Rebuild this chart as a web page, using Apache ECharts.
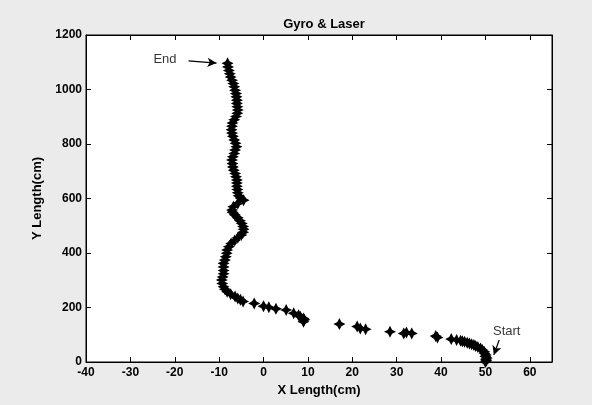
<!DOCTYPE html>
<html>
<head>
<meta charset="utf-8">
<script src="https://cdn.jsdelivr.net/npm/echarts@6/dist/echarts.min.js"></script>
<style>
  html, body { margin: 0; padding: 0; background: #ebebeb; }
  #chart { width: 592px; height: 405px; }
</style>
</head>
<body>
<div id="chart"></div>
<script>
// Robot path measured by gyro + laser, from start (x≈50) to end (y≈1100)
const xLen = [
  50.0, 50.2, 50.1, 50.3, 50.0, 50.1, 49.8, 49.7, 49.3, 48.9,
  48.3, 47.8, 47.4, 46.9, 46.4, 45.9, 45.3, 44.8, 44.4, 43.5,
  42.3, 39.2, 38.8, 33.4, 32.2, 31.6, 28.5, 23.0, 21.8, 21.1,
  17.1, 9.0, 9.2, 9.0, 8.3, 7.9, 6.8, 5.1, 2.8, 1.2,
  0.0, -2.1, -4.6, -5.2, -5.8, -6.4, -7.4, -8.2, -8.7, -9.0,
  -9.3, -9.4, -9.2, -9.0, -9.0, -9.0, -9.0, -8.7, -8.5, -8.3,
  -8.2, -7.8, -7.3, -6.5, -5.8, -5.0, -4.6, -4.5, -4.6, -4.9,
  -5.3, -5.8, -6.5, -7.0, -7.1, -6.8, -5.8, -4.5, -5.2, -5.6,
  -5.8, -5.9, -6.0, -6.0, -6.0, -6.2, -6.4, -6.7, -6.9, -7.0,
  -7.1, -6.9, -6.6, -6.4, -6.1, -6.3, -6.6, -6.9, -7.1, -7.2,
  -7.1, -7.0, -6.6, -6.2, -5.9, -5.8, -5.9, -6.0, -6.0, -6.1,
  -6.2, -6.4, -6.6, -6.8, -7.1, -7.4, -7.6, -7.8, -8.0, -8.1
];
const yLen = [
  0, 5, 10, 15, 20, 26, 32, 38, 44, 50,
  55, 59, 62, 65, 68, 71, 74, 76, 78, 81,
  84, 90, 95, 105, 108, 105, 111, 120, 123, 130,
  139, 148, 155, 160, 166, 172, 179, 191, 195, 201,
  205, 215, 222, 228, 233, 240, 249, 258, 267, 276,
  288, 301, 312, 324, 336, 349, 362, 374, 386, 399,
  411, 423, 435, 446, 456, 466, 476, 487, 497, 508,
  518, 529, 540, 550, 558, 570, 582, 594, 602, 610,
  621, 633, 645, 657, 668, 680, 692, 704, 716, 728,
  741, 753, 765, 778, 790, 803, 815, 828, 840, 852,
  865, 877, 889, 901, 913, 925, 937, 949, 961, 973,
  985, 997, 1010, 1022, 1034, 1046, 1058, 1070, 1083, 1096
];

// Axis ticks
const xTicks = { min: -40, max: 65, step: 10 };
const yTicks = { min: 0, max: 1200, step: 200 };

// Annotation callouts: label text, label anchor, arrow tail and arrow head (data units)
const endNote = { text: 'End', label: [-22.2, 1112], from: [-16.9, 1105], to: [-10.6, 1097] };
const startNote = { text: 'Start', label: [54.8, 111], from: [53.1, 81], to: [51.9, 26] };

const points = xLen.map((x, i) => [x, yLen[i]]);

// asterisk-like marker with thick arms
const starPath = 'path://M0,-5 L1.7,-1.7 L5,0 L1.7,1.7 L0,5 L-1.7,1.7 L-5,0 L-1.7,-1.7 Z';
const font = 'Arial, "Liberation Sans", Helvetica, sans-serif';

const chart = echarts.init(document.getElementById('chart'), null, { renderer: 'canvas' });

function axisBase(extra) {
  return Object.assign({
    type: 'value',
    axisLine: { show: true, onZero: false, lineStyle: { color: '#000', width: 1 } },
    axisTick: { show: true, inside: true, length: 5, lineStyle: { color: '#000', width: 1 } },
    splitLine: { show: false }
  }, extra);
}

const tickLabel = { color: '#000', fontFamily: font, fontSize: 12, fontWeight: 'bold',
                    formatter: v => String(v) };

const option = {
  backgroundColor: '#ebebeb',
  animation: false,
  title: {
    text: 'Gyro & Laser',
    left: 319, top: 13, textAlign: 'center',
    textStyle: { color: '#000', fontFamily: font, fontSize: 13, fontWeight: 'bold' }
  },
  grid: {
    left: 86, right: 40, top: 35, bottom: 43,
    show: true, backgroundColor: '#ffffff', borderColor: '#000', borderWidth: 1
  },
  xAxis: [
    axisBase({
      position: 'bottom',
      min: xTicks.min, max: xTicks.max, interval: xTicks.step,
      name: 'X Length(cm)', nameLocation: 'middle', nameGap: 21,
      nameTextStyle: { color: '#000', fontFamily: font, fontSize: 13, fontWeight: 'bold' },
      axisLabel: Object.assign({}, tickLabel, { margin: 5, showMaxLabel: false })
    }),
    axisBase({
      position: 'top',
      min: xTicks.min, max: xTicks.max, interval: xTicks.step,
      axisLabel: { show: false }
    })
  ],
  yAxis: [
    axisBase({
      position: 'left',
      min: yTicks.min, max: yTicks.max, interval: yTicks.step,
      name: 'Y Length(cm)', nameLocation: 'middle', nameGap: 37,
      nameTextStyle: { color: '#000', fontFamily: font, fontSize: 13, fontWeight: 'bold' },
      axisLabel: Object.assign({}, tickLabel, { margin: 4 })
    }),
    axisBase({
      position: 'right',
      min: yTicks.min, max: yTicks.max, interval: yTicks.step,
      axisLabel: { show: false }
    })
  ],
  series: [
    {
      type: 'scatter',
      xAxisIndex: 0, yAxisIndex: 0,
      data: points,
      symbol: starPath,
      symbolSize: 12,
      itemStyle: { color: '#000', opacity: 1 },
      silent: true
    },
    {
      // callout labels and arrows
      type: 'scatter',
      xAxisIndex: 0, yAxisIndex: 0,
      data: [
        { value: endNote.label, name: endNote.text },
        { value: startNote.label, name: startNote.text }
      ],
      symbolSize: 0,
      label: {
        show: true, position: 'inside', formatter: '{b}',
        color: '#000', fontFamily: font, fontSize: 13
      },
      markLine: {
        silent: true,
        symbol: ['none', 'arrow'],
        symbolSize: [7, 9],
        label: { show: false },
        lineStyle: { color: '#000', width: 1.2, type: 'solid' },
        data: [
          [{ coord: endNote.from }, { coord: endNote.to }],
          [{ coord: startNote.from }, { coord: startNote.to }]
        ]
      }
    }
  ]
};

chart.setOption(option);
</script>
</body>
</html>
